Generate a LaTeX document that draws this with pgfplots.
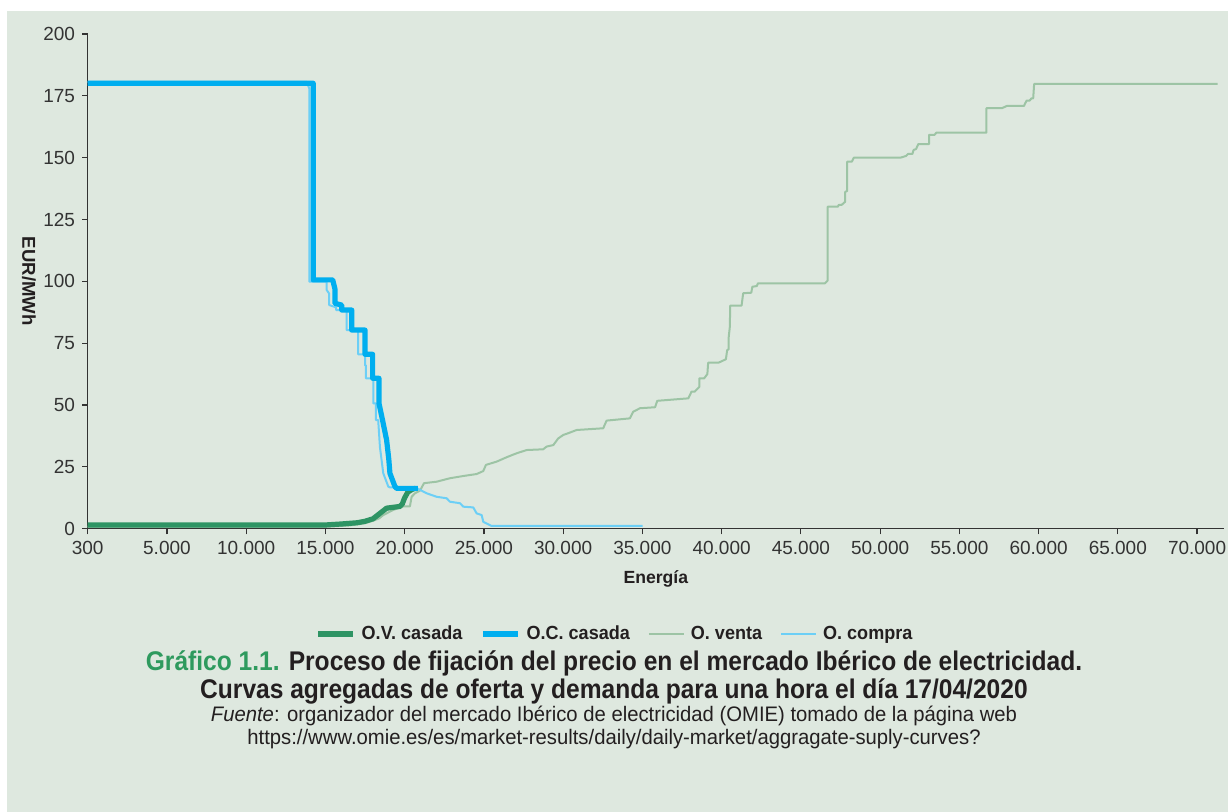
\documentclass[border=0pt]{standalone}
\usepackage{fontspec}
\setmainfont{Liberation Sans}
\newfontfamily\condfont[FakeStretch=0.91]{Liberation Sans}
\newfontfamily\legfont[FakeStretch=0.95]{Liberation Sans}
\newfontfamily\footfont[FakeStretch=0.965]{Liberation Sans}
\usepackage{pgfplots}
\pgfplotsset{compat=1.18}
\definecolor{bgc}{HTML}{DEE8DF}
\definecolor{axc}{HTML}{333333}
\definecolor{ovcas}{HTML}{2E9464}
\definecolor{occas}{HTML}{00AEEF}
\definecolor{oventa}{HTML}{9DC4A5}
\definecolor{ocompra}{HTML}{6CCFF6}
\definecolor{tgreen}{HTML}{2E9A5E}
\definecolor{tblack}{HTML}{231F20}
\begin{document}
\begin{tikzpicture}
\path[use as bounding box, fill=white] (-43.85pt,-141.65pt) rectangle (570.15pt,264.35pt);
\fill[bgc] (-40.35pt,-141.65pt) rectangle (570.15pt,258.85pt);
\begin{axis}[
  at={(0pt,0pt)}, anchor=south west,
  scale only axis, width=568.15pt, height=247.35pt,
  xmin=0, xmax=71700, ymin=0, ymax=200,
  scaled x ticks=false, scaled y ticks=false,
  axis x line*=bottom, axis y line*=left,
  axis line style={color=axc, line width=0.6pt},
  tick style={color=axc, line width=0.6pt},
  tick align=outside, major tick length=2.8pt,
  xtick={0,5000,10000,15000,20000,25000,30000,35000,40000,45000,50000,55000,60000,65000,70000},
  xticklabels={300,5.000,10.000,15.000,20.000,25.000,30.000,35.000,40.000,45.000,50.000,55.000,60.000,65.000,70.000},
  ytick={0,25,50,75,100,125,150,175,200},
  /pgf/number format/assume math mode=true,
  tick label style={font=\fontsize{9.5}{10}\selectfont, text=axc},
  xlabel={Energía},
  ylabel={EUR/MWh},
  label style={font=\bfseries\fontsize{8.8}{10}\selectfont, text=tblack},
  xlabel style={at={(axis description cs:0.5,-0.1017)}, anchor=center},
  ylabel style={at={(axis description cs:-0.0517,0.5)}, anchor=center, rotate=180, font=\bfseries\fontsize{9.3}{10}\selectfont},
  legend style={at={(axis description cs:0.464,-0.213)}, anchor=center, draw=none, fill=none,
    font=\legfont\bfseries\fontsize{9.5}{10}\selectfont, text=tblack,
    nodes={inner sep=1pt},
    /tikz/every odd column/.append style={column sep=2pt},
    /tikz/every even column/.append style={column sep=8pt}},
  legend columns=4,
  legend image code/.code={\draw[#1] (0pt,0pt) -- (17.5pt,0pt);},
  line join=round,
]
% O. venta (thin green)
\addplot[oventa, line width=1pt, forget plot] coordinates {
(0,0.8) (15000,0.8) (16500,1.3) (17500,2.2) (18000,3.2) (18400,4.2) (18650,5.5) (19280,7.6) (19910,9.0) (20330,9.0) (20440,12.9) (20650,14.3) (20970,15.4) (21220,18.4) (22020,19.0) (22860,20.4) (23700,21.3) (24540,22.1) (24960,23.3) (25130,25.8) (25800,27.1) (26440,28.9) (27070,30.5) (27700,31.8) (28740,32.1) (28960,33.2) (29380,33.8) (29690,36.5) (30010,37.9) (30320,38.6) (30850,39.9) (32530,40.6) (32740,43.7) (34210,44.6) (34420,47.3) (34850,48.7) (35800,49.1) (35940,51.7) (37900,52.7) (38100,55.4) (38300,55.4) (38600,57.4) (38600,60.8) (38900,60.8) (39100,62.5) (39150,67.1) (39800,67.1) (40270,68.5) (40350,72.2) (40440,72.5) (40440,77) (40520,81.7) (40540,90.2) (41260,90.2) (41360,95.2) (41870,95.4) (41940,97.8) (42220,98.1) (42290,99.2) (46520,99.2) (46690,100.3) (46690,130.2) (47340,130.2) (47390,130.9) (47570,130.9) (47800,132.2) (47800,136.2) (47920,136.5) (47920,148.4) (48220,148.4) (48340,150.0) (51290,150.0) (51640,150.7) (51760,151.5) (52040,151.5) (52110,153.1) (52270,153.5) (52410,155.5) (53090,155.5) (53090,159.2) (53430,159.2) (53550,160.1) (56710,160.1) (56710,170) (57690,170) (57990,170.9) (59080,170.9) (59140,171.8) (59250,173.1) (59440,173.1) (59550,174) (59660,174) (59720,179.8) (71300,179.8)
};
% O. compra (thin blue)
\addplot[ocompra, line width=1pt, forget plot] coordinates {
(0,180.6) (13820,180.6) (13980,178) (13980,99.9) (15080,99.9) (15080,96.5) (15240,95) (15240,90.4) (15670,89.5) (15670,88.4) (16340,88.4) (16340,80.3) (17070,80) (17070,70.5) (17500,70.5) (17500,66) (17560,66) (17560,60.8) (18020,60.8) (18020,50.7) (18190,50.7) (18190,43.9) (18330,43.9) (18440,33) (18650,22.4) (18970,17) (19070,16.7) (20760,16.4) (21390,14.3) (22020,12.9) (22650,12.3) (22860,10.9) (23490,10.3) (23700,8.9) (24330,8.6) (24540,6.2) (24860,5.5) (24960,2.8) (25490,1.1) (35020,1.1)
};
% O.V. casada (thick green)
\addplot[ovcas, line width=2.6pt, forget plot] coordinates {
(0,1.5) (15000,1.5) (16000,1.9) (17000,2.4) (17500,3) (18000,4) (18400,6) (18860,8.3) (19700,9) (19850,10) (20000,12.5) (20200,14.8) (20500,16) (20700,16.3)
};
% O.C. casada (thick blue)
\addplot[occas, line width=2.6pt, forget plot] coordinates {
(0,180.1) (14230,180.1) (14230,100.6) (15460,100.6) (15600,97) (15600,91.1) (16030,90.4) (16030,88.4) (16660,88.4) (16660,80.3) (17500,80.3) (17500,70.5) (17980,70.5) (17980,60.8) (18380,60.8) (18380,50.7) (18600,44) (18860,35.9) (19000,28) (19070,22.4) (19390,17) (19500,16.3) (20840,16.3)
};
\addlegendimage{ovcas, line width=2.6pt}
\addlegendentry{O.V. casada}
\addlegendimage{occas, line width=2.6pt}
\addlegendentry{O.C. casada}
\addlegendimage{oventa, line width=1pt}
\addlegendentry{O. venta}
\addlegendimage{ocompra, line width=1pt}
\addlegendentry{O. compra}
\end{axis}
\node[anchor=base, font=\condfont\bfseries\fontsize{13.5}{14}\selectfont, text=tblack] at (263.15pt,-71.15pt)
  {\textcolor{tgreen}{Gráfico 1.1.} Proceso de fijación del precio en el mercado Ibérico de electricidad.};
\node[anchor=base, font=\condfont\bfseries\fontsize{13.5}{14}\selectfont, text=tblack] at (263.15pt,-85.15pt)
  {Curvas agregadas de oferta y demanda para una hora el día 17/04/2020};
\node[anchor=base, font=\footfont\fontsize{10.5}{12}\selectfont, text=tblack] at (263.15pt,-96.65pt)
  {\textit{Fuente}: organizador del mercado Ibérico de electricidad (OMIE) tomado de la página web};
\node[anchor=base, font=\footfont\fontsize{10.5}{12}\selectfont, text=tblack] at (263.15pt,-108.15pt)
  {https://www.omie.es/es/market-results/daily/daily-market/aggragate-suply-curves?};
\end{tikzpicture}
\end{document}
